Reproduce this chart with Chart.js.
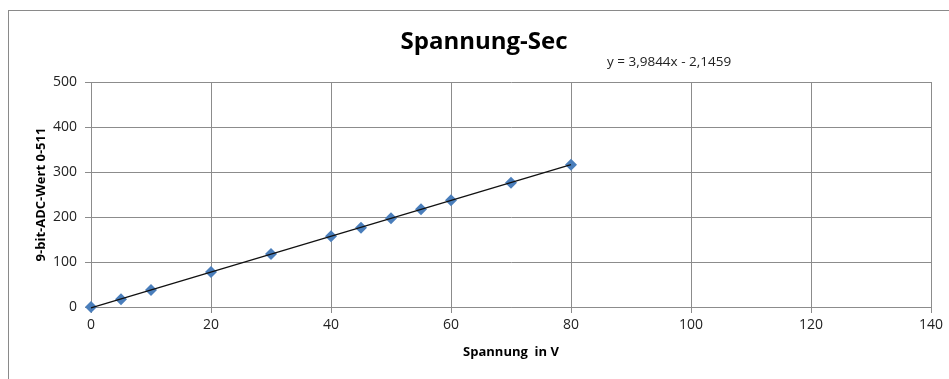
<!DOCTYPE html>
<html>
<head>
<meta charset="utf-8">
<script src="https://cdn.jsdelivr.net/npm/chart.js@4/dist/chart.umd.min.js"></script>
<style>
  html, body { margin: 0; padding: 0; background: #fff; }
  #wrap { width: 949px; height: 379px; position: relative; }
</style>
</head>
<body>
<div id="wrap"><canvas id="c" width="949" height="379"></canvas></div>
<script>
// Measured voltage (V) and the 9-bit ADC reading
const spannung = [0, 5, 10, 20, 30, 40, 45, 50, 55, 60, 70, 80];
const adcWert  = [0, 17, 38, 78, 118, 157, 176, 197, 217, 237, 276, 316];

// Linear trendline as stated in the equation label
const trendSlope = 3.9844;
const trendIntercept = -2.1459;
const trendLabel = 'y = 3,9844x - 2,1459';

const chartTitle = 'Spannung-Sec';
const xTitle = 'Spannung  in V';
const yTitle = '9-bit-ADC-Wert 0-511';

const FONT = '"Open Sans", "Noto Sans", sans-serif';
const GRID = '#8c8c8c';

const points = spannung.map((x, i) => ({ x: x, y: adcWert[i] }));
const xFirst = spannung[0], xLast = spannung[spannung.length - 1];
const trend = [
  { x: xFirst, y: trendSlope * xFirst + trendIntercept },
  { x: xLast,  y: trendSlope * xLast + trendIntercept }
];

// Outer frame, chart title and equation text
const extras = {
  id: 'extras',
  beforeDraw(chart) {
    const ctx = chart.ctx;
    ctx.save();
    ctx.fillStyle = '#fff';
    ctx.fillRect(0, 0, chart.width, chart.height);
    ctx.strokeStyle = '#8a8a8a';
    ctx.lineWidth = 1;
    ctx.strokeRect(8.5, 10.5, 2000, 2000);
    ctx.restore();
  },
  afterDraw(chart) {
    const ctx = chart.ctx;
    ctx.save();
    ctx.textBaseline = 'middle';
    ctx.textAlign = 'center';
    ctx.fillStyle = '#000';
    ctx.font = 'bold 24px ' + FONT;
    ctx.fillText(chartTitle, 484, 42);
    ctx.font = '13.5px ' + FONT;
    ctx.fillStyle = '#222';
    ctx.textAlign = 'left';
    ctx.fillText(trendLabel, 607, 62);
    ctx.restore();
  }
};

new Chart(document.getElementById('c'), {
  type: 'scatter',
  data: {
    datasets: [
      {
        type: 'line',
        data: trend,
        borderColor: '#111',
        borderWidth: 1.3,
        pointRadius: 0,
        fill: false,
        clip: false
      },
      {
        data: points,
        pointStyle: 'rectRot',
        pointRadius: 6,
        backgroundColor: '#4a7ebb',
        borderColor: '#4a7ebb',
        borderWidth: 0,
        clip: false
      }
    ]
  },
  options: {
    responsive: false,
    animation: false,
    layout: { padding: { left: 9, right: 18, top: 82, bottom: 0 } },
    plugins: {
      legend: { display: false },
      tooltip: { enabled: false },
      title: { display: false }
    },
    scales: {
      x: {
        type: 'linear',
        min: 0, max: 140,
        ticks: { stepSize: 20, color: '#222', font: { family: FONT, size: 14 }, padding: 4, maxRotation: 0 },
        grid: { color: GRID, lineWidth: 1, drawTicks: true, tickLength: 6, tickColor: GRID },
        border: { color: GRID, width: 1 },
        title: { display: true, text: xTitle, color: '#000', font: { family: FONT, size: 13, weight: 'bold' }, padding: { top: 19, bottom: 19 } },
        afterFit(s) { s.height = 72; }
      },
      y: {
        type: 'linear',
        min: 0, max: 500,
        ticks: { stepSize: 100, color: '#222', font: { family: FONT, size: 14 }, padding: 8 },
        grid: { color: GRID, lineWidth: 1, drawTicks: true, tickLength: 6, tickColor: GRID },
        border: { color: GRID, width: 1 },
        title: { display: true, text: yTitle, color: '#000', font: { family: FONT, size: 13, weight: 'bold' }, padding: { top: 24, bottom: 24 } },
        afterFit(s) { s.width = 82; }
      }
    }
  },
  plugins: [extras]
});
</script>
</body>
</html>
